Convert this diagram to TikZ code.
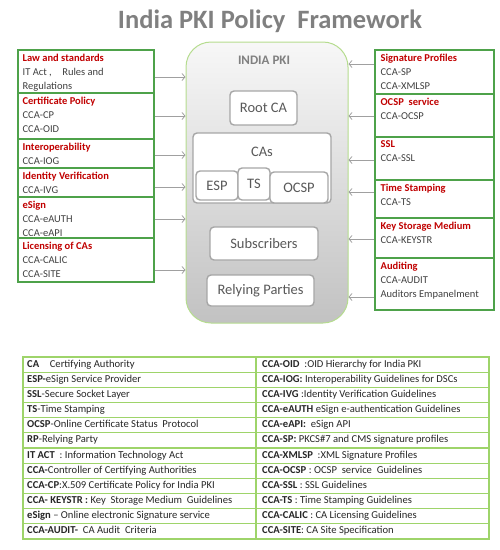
\documentclass[tikz,border=0pt]{standalone}
\usepackage{fontspec}
\setmainfont{Carlito}
\usetikzlibrary{arrows.meta,calc}
\definecolor{secgreen}{HTML}{4EA24A}
\definecolor{tabgreen}{HTML}{9ED46A}
\definecolor{pkigreen}{HTML}{B5DC8E}
\definecolor{hdred}{HTML}{C00000}
\definecolor{bodygray}{HTML}{404040}
\definecolor{titlegray}{HTML}{808080}
\definecolor{boxgray}{HTML}{A6A6A6}
\definecolor{arrgray}{HTML}{A0A0A0}
\definecolor{intext}{HTML}{595959}
\definecolor{tabtext}{HTML}{262626}
\newcommand{\hd}[1]{\textcolor{hdred}{\textbf{#1}}}
\tikzset{
 sec/.style={draw=secgreen, line width=1.1pt, rectangle, inner sep=0pt},
 sectxt/.style={anchor=north west, inner sep=0pt, align=left, text=bodygray, font=\fontsize{10.5}{14}\selectfont},
 arr/.style={draw=arrgray, line width=0.8pt, -{Straight Barb[length=3pt,width=7pt]}},
 inbox/.style={draw=boxgray, fill=white, line width=1.4pt, rounded corners=4pt, inner sep=0pt, text=intext, font=\fontsize{14.5}{16}\selectfont},
 tabtxt/.style={anchor=west, inner sep=0pt, text=tabtext, text height=7pt, text depth=2pt, font=\fontsize{10.6}{12}\selectfont},
 tabline/.style={draw=tabgreen, line width=1.2pt}
}
\begin{document}
\begin{tikzpicture}[x=1pt,y=-1pt]
\useasboundingbox (0,0) rectangle (500,550);
% title
\node[font=\fontsize{26.5}{30}\selectfont\bfseries, text=titlegray, anchor=base, inner sep=0pt] (title) at (270,28) {India PKI Policy\ \ Framework};

% big box
\node[draw=pkigreen, line width=1pt, rounded corners=25pt, top color=gray!6, bottom color=gray!48, minimum width=162pt, minimum height=281pt, inner sep=0pt] (pki) at (267,182.5) {};
\node[font=\bfseries\fontsize{13}{15}\selectfont, text=titlegray] (pkil) at (264,60) {INDIA PKI};
\node[inbox, minimum width=67pt, minimum height=34pt] (root) at (263.5,108) {Root CA};
\node[inbox, minimum width=138pt, minimum height=70pt] (cas) at (262,168) {};
\node[text=intext, font=\fontsize{14.5}{16}\selectfont] (casl) at (262,152) {CAs};
\node[inbox, minimum width=42pt, minimum height=29pt] (esp) at (217,185.5) {ESP};
\node[inbox, minimum width=32pt, minimum height=32pt] (ts) at (254,184) {TS};
\node[inbox, minimum width=58pt, minimum height=31pt] (ocsp) at (299,187.5) {OCSP};
\node[inbox, minimum width=108pt, minimum height=33pt] (subs) at (264,243.5) {Subscribers};
\node[inbox, minimum width=107pt, minimum height=31pt] (rp) at (260.5,290.5) {Relying Parties};

% left sections
\node[sec, minimum width=136pt, minimum height=43pt] (l1) at (86,71.5) {};
\node[sec, minimum width=136pt, minimum height=46pt] (l2) at (86,116) {};
\node[sec, minimum width=136pt, minimum height=29pt] (l3) at (86,153.5) {};
\node[sec, minimum width=136pt, minimum height=29pt] (l4) at (86,182.5) {};
\node[sec, minimum width=136pt, minimum height=41pt] (l5) at (86,217.5) {};
\node[sec, minimum width=136pt, minimum height=44pt] (l6) at (86,260) {};
\node[sectxt] (l1t) at ([xshift=5pt,yshift=-4pt]l1.north west) {\hd{Law and standards}\\IT Act ,\quad Rules and\\Regulations};
\node[sectxt] (l2t) at ([xshift=5pt,yshift=-4pt]l2.north west) {\hd{Certificate Policy}\\CCA-CP\\CCA-OID};
\node[sectxt] (l3t) at ([xshift=5pt,yshift=-4pt]l3.north west) {\hd{Interoperability}\\CCA-IOG};
\node[sectxt] (l4t) at ([xshift=5pt,yshift=-4pt]l4.north west) {\hd{Identity Verification}\\CCA-IVG};
\node[sectxt] (l5t) at ([xshift=5pt,yshift=-4pt]l5.north west) {\hd{eSign}\\CCA-eAUTH\\CCA-eAPI};
\node[sectxt] (l6t) at ([xshift=5pt,yshift=-4pt]l6.north west) {\hd{Licensing of CAs}\\CCA-CALIC\\CCA-SITE};

% right sections
\node[sec, minimum width=119pt, minimum height=44pt] (r1) at (434.5,72) {};
\node[sec, minimum width=119pt, minimum height=43pt] (r2) at (434.5,115.5) {};
\node[sec, minimum width=119pt, minimum height=43pt] (r3) at (434.5,158.5) {};
\node[sec, minimum width=119pt, minimum height=38pt] (r4) at (434.5,199) {};
\node[sec, minimum width=119pt, minimum height=40pt] (r5) at (434.5,238) {};
\node[sec, minimum width=119pt, minimum height=52pt] (r6) at (434.5,284) {};
\node[sectxt] (r1t) at ([xshift=6pt,yshift=-4pt]r1.north west) {\hd{Signature Profiles}\\CCA-SP\\CCA-XMLSP};
\node[sectxt] (r2t) at ([xshift=6pt,yshift=-4pt]r2.north west) {\hd{OCSP\ \ service}\\CCA-OCSP};
\node[sectxt] (r3t) at ([xshift=6pt,yshift=-4pt]r3.north west) {\hd{SSL}\\CCA-SSL};
\node[sectxt] (r4t) at ([xshift=6pt,yshift=-4pt]r4.north west) {\hd{Time Stamping}\\CCA-TS};
\node[sectxt] (r5t) at ([xshift=6pt,yshift=-4pt]r5.north west) {\hd{Key Storage Medium}\\CCA-KEYSTR};
\node[sectxt] (r6t) at ([xshift=6pt,yshift=-4pt]r6.north west) {\hd{Auditing}\\CCA-AUDIT\\Auditors Empanelment};

% arrows left -> pki
\draw[arr] (l1.east |- 0,77) -- (pki.west |- 0,77);
\draw[arr] (l2.east |- 0,116) -- (pki.west |- 0,116);
\draw[arr] (l3.east |- 0,155) -- (pki.west |- 0,155);
\draw[arr] (l4.east |- 0,187) -- (pki.west |- 0,187);
\draw[arr] (l5.east |- 0,219) -- (pki.west |- 0,219);
\draw[arr] (l6.east |- 0,270) -- (pki.west |- 0,270);
% arrows right -> pki
\draw[arr] (r1.west |- 0,64) -- (pki.east |- 0,64);
\draw[arr] (r2.west |- 0,116) -- (pki.east |- 0,116);
\draw[arr] (r3.west |- 0,160) -- (pki.east |- 0,160);
\draw[arr] (r4.west |- 0,192) -- (pki.east |- 0,192);
\draw[arr] (r5.west |- 0,239) -- (pki.east |- 0,239);
\draw[arr] (r6.west |- 0,297) -- (pki.east |- 0,297);

% table
\foreach \k in {1,...,11} {\draw[tabline] (23,357+\k*15.1667) -- (489,357+\k*15.1667);}
\draw[tabline] (256,357) -- (256,539);
\draw[tabline] (23,357) rectangle (489,539);
\node[tabtxt] (a1) at (27,364.6) {\textbf{CA}\quad Certifying Authority};
\node[tabtxt] (a2) at (27,379.8) {\textbf{ESP-}eSign Service Provider};
\node[tabtxt] (a3) at (27,394.9) {\textbf{SSL}-Secure Socket Layer};
\node[tabtxt] (a4) at (27,410.1) {\textbf{TS}-Time Stamping};
\node[tabtxt] (a5) at (27,425.3) {\textbf{OCSP}-Online Certificate Status\ \ Protocol};
\node[tabtxt] (a6) at (27,440.4) {\textbf{RP}-Relying Party};
\node[tabtxt] (a7) at (27,455.6) {\textbf{IT ACT}\ \ : Information Technology Act};
\node[tabtxt] (a8) at (27,470.8) {\textbf{CCA-}Controller of Certifying Authorities};
\node[tabtxt] (a9) at (27,485.9) {\textbf{CCA-CP}:X.509 Certificate Policy for India PKI};
\node[tabtxt] (a10) at (27,501.1) {\textbf{CCA- KEYSTR :} Key\ \ Storage Medium\ \ Guidelines};
\node[tabtxt] (a11) at (27,516.3) {\textbf{eSign} -- Online electronic Signature service};
\node[tabtxt] (a12) at (27,531.4) {\textbf{CCA-AUDIT-}\ \ CA Audit\ \ Criteria};
\node[tabtxt] (b1) at (262,364.6) {\textbf{CCA-OID}\ \ :OID Hierarchy for India PKI};
\node[tabtxt] (b2) at (262,379.8) {\textbf{CCA-IOG:} Interoperability Guidelines for DSCs};
\node[tabtxt] (b3) at (262,394.9) {\textbf{CCA-IVG} :Identity Verification Guidelines};
\node[tabtxt] (b4) at (262,410.1) {\textbf{CCA-eAUTH} eSign e-authentication Guidelines};
\node[tabtxt] (b5) at (262,425.3) {\textbf{CCA-eAPI:}\ \ eSign API};
\node[tabtxt] (b6) at (262,440.4) {\textbf{CCA-SP:} PKCS\#7 and CMS signature profiles};
\node[tabtxt] (b7) at (262,455.6) {\textbf{CCA-XMLSP}\ \ :XML Signature Profiles};
\node[tabtxt] (b8) at (262,470.8) {\textbf{CCA-OCSP} : OCSP\ \ service\ \ Guidelines};
\node[tabtxt] (b9) at (262,485.9) {\textbf{CCA-SSL} : SSL Guidelines};
\node[tabtxt] (b10) at (262,501.1) {\textbf{CCA-TS} : Time Stamping Guidelines};
\node[tabtxt] (b11) at (262,516.3) {\textbf{CCA-CALIC} : CA Licensing Guidelines};
\node[tabtxt] (b12) at (262,531.4) {\textbf{CCA-SITE}: CA Site Specification};
\end{tikzpicture}
\end{document}
